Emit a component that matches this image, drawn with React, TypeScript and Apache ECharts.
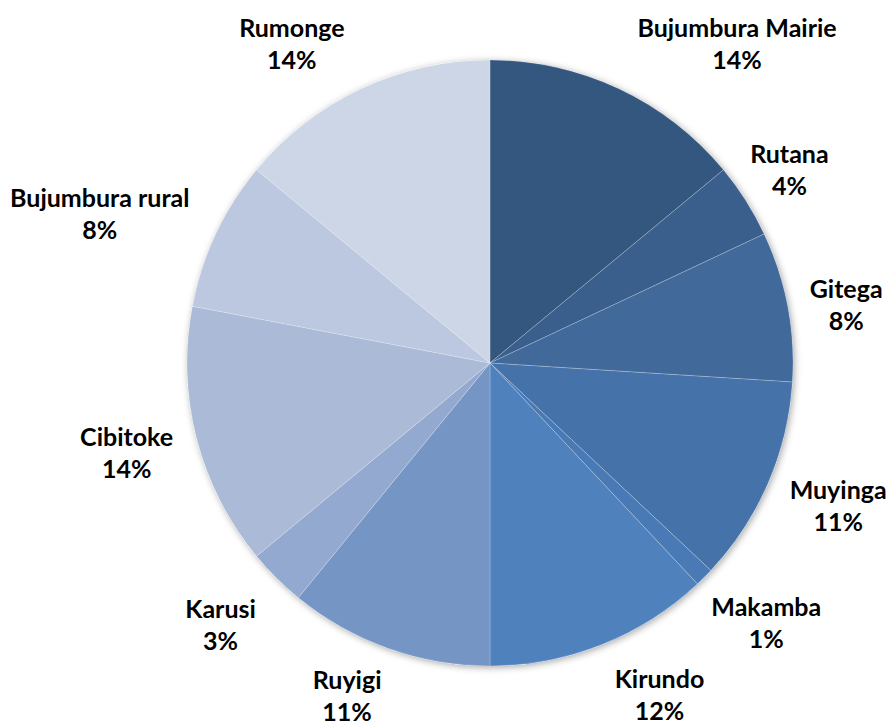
import React, { useEffect, useRef } from "react";
import * as echarts from "echarts";

// Provinces, clockwise from 12 o'clock
const provinces = [
  "Bujumbura Mairie",
  "Rutana",
  "Gitega",
  "Muyinga",
  "Makamba",
  "Kirundo",
  "Ruyigi",
  "Karusi",
  "Cibitoke",
  "Bujumbura rural",
  "Rumonge",
];

// Share of each province (percent)
const shares = [14.0, 4.0, 8.0, 11.0, 1.0, 12.0, 10.9, 3.1, 14.0, 8.0, 14.0];

const sliceColors = [
  "#33577f",
  "#3a5f8d",
  "#41699a",
  "#4572a8",
  "#4a7ab5",
  "#4f81bd",
  "#7595c4",
  "#94a9cf",
  "#aabad7",
  "#bbc8e0",
  "#ccd6e7",
];

// label placement: angular shift from slice middle (deg) and distance from centre (px)
const labelShift = [12.5, -0.6, 1.4, -1.2, -1.8, -5.5, 3.7, 1.1, 0.7, -4.2, -6.6];
const labelDist = [404, 357, 361, 376, 379, 372, 361, 375, 374, 418, 376];

const CX = 490;
const CY = 363;
const R = 303;

export default function App() {
  const ref = useRef<HTMLDivElement>(null);

  useEffect(() => {
    if (!ref.current) return;
    const chart = echarts.init(ref.current, undefined, { renderer: "svg" });
    const total = shares.reduce((a, b) => a + b, 0);
    const mids: number[] = [];
    let acc = 0;
    shares.forEach((v) => {
      mids.push(((acc + v / 2) / total) * 360);
      acc += v;
    });

    chart.setOption({
      animation: false,
      backgroundColor: "#ffffff",
      series: [
        {
          type: "pie",
          silent: true,
          center: [CX, CY],
          radius: R,
          z: 1,
          label: { show: false },
          labelLine: { show: false },
          itemStyle: {
            color: "#ffffff",
            shadowBlur: 7,
            shadowColor: "rgba(0,0,0,0.35)",
            shadowOffsetX: 1.5,
            shadowOffsetY: 1.5,
          },
          data: [{ value: 1, name: "bg" }],
        },
        {
          type: "pie",
          center: [CX, CY],
          radius: R,
          startAngle: 90,
          clockwise: true,
          z: 2,
          data: provinces.map((name, i) => ({
            name,
            value: shares[i],
            itemStyle: { color: sliceColors[i] },
          })),
          itemStyle: {
            borderColor: "rgba(255,255,255,0.35)",
            borderWidth: 0.6,
          },
          label: {
            show: true,
            position: "outside",
            overflow: "none",
            formatter: (p: any) => `${p.name}\n${Math.round(p.percent)}%`,
            fontFamily: "Lato, 'Noto Sans', sans-serif",
            fontWeight: "bold",
            fontSize: 25,
            lineHeight: 32,
            color: "#000000",
            align: "center",
          },
          labelLine: { show: false },
          labelLayout: (params: any) => {
            const i = params.dataIndex;
            const a = ((mids[i] + labelShift[i]) * Math.PI) / 180;
            return {
              x: CX + labelDist[i] * Math.sin(a),
              y: CY - labelDist[i] * Math.cos(a),
              align: "center",
              verticalAlign: "middle",
            };
          },
          emphasis: { disabled: true },
        },
      ],
    });
    return () => chart.dispose();
  }, []);

  return (
    <div
      ref={ref}
      style={{ position: "fixed", left: 0, top: 0, width: 891, height: 724 }}
    />
  );
}
